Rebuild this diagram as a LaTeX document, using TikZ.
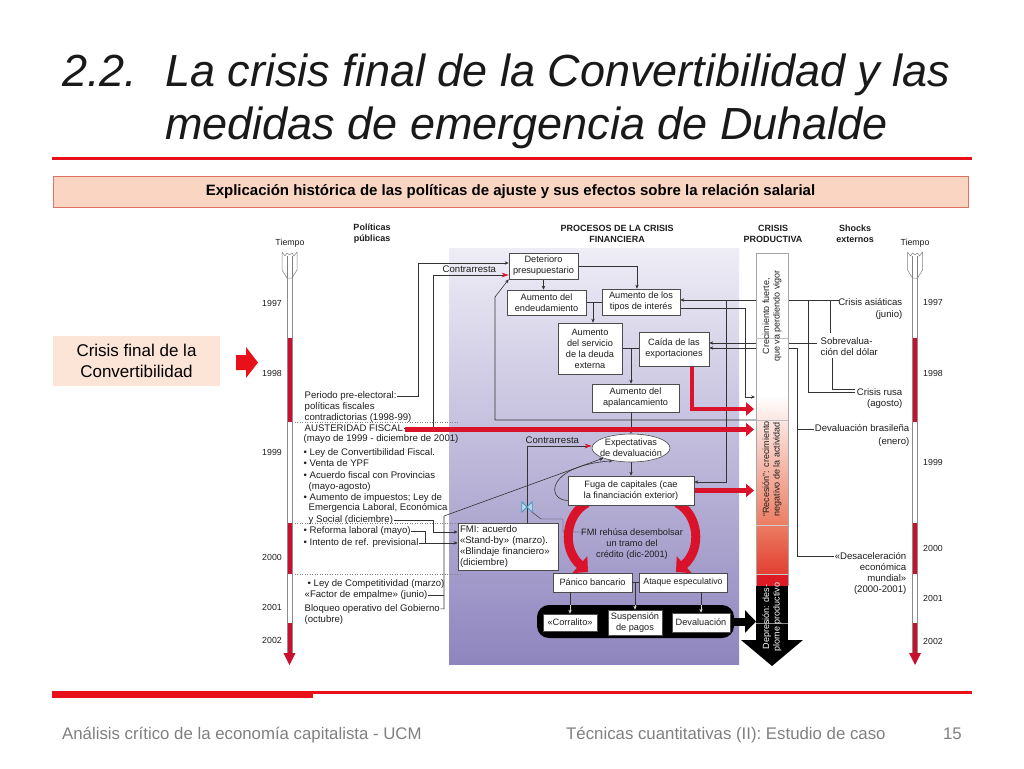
\documentclass[tikz,border=0pt]{standalone}
\usepackage{fontspec}
\setmainfont{Liberation Sans}
\usetikzlibrary{arrows.meta,shapes.geometric,calc}
\pgfdeclarelayer{bg}
\pgfsetlayers{bg,main}
\definecolor{slred}{RGB}{232,17,25}
\definecolor{hdrfill}{RGB}{250,214,194}
\definecolor{hdrdraw}{RGB}{226,112,100}
\definecolor{cffill}{RGB}{252,228,214}
\definecolor{footgray}{RGB}{128,128,128}
\definecolor{ptop}{RGB}{238,237,246}
\definecolor{pbot}{RGB}{142,133,190}
\definecolor{figred}{RGB}{218,18,42}
\definecolor{tlred}{RGB}{200,16,46}
\definecolor{txt}{RGB}{30,30,30}
\definecolor{colA}{RGB}{236,125,98}
\definecolor{colB}{RGB}{226,62,48}
\definecolor{colC}{RGB}{222,26,36}
\definecolor{valvec}{RGB}{70,150,195}
\newcommand\figf{\fontsize{9.6}{11.2}\selectfont}
\newcommand\boxf{\fontsize{9.2}{11}\selectfont}
\newcommand\figb{\fontsize{9}{10.8}\selectfont\bfseries}
\newcommand\yrf{\fontsize{8.8}{10}\selectfont}
\begin{document}
\begin{tikzpicture}[x=1pt,y=-1pt,
  bx/.style={draw=black!70, fill=white, line width=0.6pt, align=center, inner sep=1pt, font=\boxf, text=txt},
  tl/.style={anchor=base west, inner sep=0.5pt, font=\figf, text=txt},
  tr/.style={anchor=base east, inner sep=0.5pt, font=\figf, text=txt},
  yr/.style={anchor=base, inner sep=0pt, font=\yrf, text=txt},
  hd/.style={align=center, inner sep=0pt, font=\figb, text=txt},
  vt/.style={rotate=90, align=center, inner sep=0pt, font=\fontsize{9}{10.5}\selectfont, text=txt},
  tit/.style={anchor=base west, inner sep=0pt, font=\fontsize{45}{54}\selectfont\itshape, text=black!90},
  ln/.style={draw=black!80, line width=0.6pt},
  arr/.style={ln, -{Stealth[length=4pt,width=3.4pt]}},
  warr/.style={draw=white!85!black, line width=0.6pt, -{Stealth[length=4pt,width=3.4pt]}},
  carr/.style={ln, -{Stealth[length=7pt,width=4.5pt,color=figred]}},
  redarr/.style={draw=figred, line width=4.5pt, -{Triangle[length=8pt,width=13pt]}},
  curvarr/.style={draw=figred, line width=9pt, -{Triangle[length=11pt,width=22pt]}},
  dots/.style={draw=black!50, line width=0.5pt, dotted},
]
\useasboundingbox (0,0) rectangle (1024,768);
\begin{pgfonlayer}{bg}
\fill[white] (0,0) rectangle (1024,768);
\end{pgfonlayer}

% ---------- slide frame ----------
\node[tit] (tnum) at (62,86) {2.2.};
\node[tit] (tl1) at (165,86) {La crisis final de la Convertibilidad y las};
\node[tit] (tl2) at (165,139) {medidas de emergencia de Duhalde};
\fill[slred] (52,157) rectangle (972,160);
\node[draw=hdrdraw, fill=hdrfill, line width=1pt, minimum width=915pt, minimum height=31pt, inner sep=0pt,
      font=\fontsize{15}{18}\selectfont\bfseries] (hdr) at (510.5,191.5)
      {Explicación histórica de las políticas de ajuste y sus efectos sobre la relación salarial};
\node[fill=cffill, minimum width=167pt, minimum height=50pt, inner sep=0pt, align=center,
      font=\fontsize{17}{20.5}\selectfont] (cf) at (136.5,361) {Crisis final de la\\Convertibilidad};
\fill[slred] (236,355) -- (246,355) -- (246,347) -- (258,362.5) -- (246,378) -- (246,370) -- (236,370) -- cycle;
\fill[slred] (52,690.5) rectangle (313,697.5);
\fill[slred] (313,690.5) rectangle (972,693.5);
\node[anchor=base west, inner sep=0pt, font=\fontsize{16.8}{20}\selectfont, text=footgray] (f1) at (62,739) {Análisis crítico de la economía capitalista - UCM};
\node[anchor=base west, inner sep=0pt, font=\fontsize{16.8}{20}\selectfont, text=footgray] (f2) at (566,739) {Técnicas cuantitativas (II): Estudio de caso};
\node[anchor=base east, inner sep=0pt, font=\fontsize{16.8}{20}\selectfont, text=footgray] (f3) at (962,739) {15};

% ---------- headers ----------
\node[hd] (hpol) at (372,234) {Políticas\\públicas};
\node[hd] (hproc) at (617,233.5) {PROCESOS DE LA CRISIS\\FINANCIERA};
\node[hd] (hprod) at (773,233.5) {CRISIS\\PRODUCTIVA};
\node[hd] (hsho) at (855,233.5) {Shocks\\externos};
\node[inner sep=0pt, font=\yrf, text=txt] (tiL) at (290,243) {Tiempo};
\node[inner sep=0pt, font=\yrf, text=txt] (tiR) at (915,243) {Tiempo};

% ---------- years ----------
\node[yr] (yl97) at (272,306.3) {1997};
\node[yr] (yl98) at (272,376.3) {1998};
\node[yr] (yl99) at (272,455.3) {1999};
\node[yr] (yl00) at (272,560) {2000};
\node[yr] (yl01) at (272,610.3) {2001};
\node[yr] (yl02) at (272,643.5) {2002};
\node[yr] (yr97) at (933,305.3) {1997};
\node[yr] (yr98) at (933,376.3) {1998};
\node[yr] (yr99) at (933,465.3) {1999};
\node[yr] (yr00) at (933,551.3) {2000};
\node[yr] (yr01) at (933,601.3) {2001};
\node[yr] (yr02) at (933,644.3) {2002};

% ---------- timelines ----------
\foreach \cx in {289.5,915}{
  \fill[white] (\cx-2.5,262) rectangle (\cx+2.5,655);
  \fill[tlred] (\cx-2.5,338) rectangle (\cx+2.5,422);
  \fill[tlred] (\cx-2.5,523) rectangle (\cx+2.5,574);
  \fill[tlred] (\cx-2.5,623) rectangle (\cx+2.5,656);
  \draw[black!45, line width=0.5pt] (\cx-2.5,270) -- (\cx-2.5,654) (\cx+2.5,270) -- (\cx+2.5,654);
  \fill[tlred] (\cx-6,653) -- (\cx+6,653) -- (\cx,665) -- cycle;
  \draw[black!50, fill=white, line width=0.5pt, line join=round] (\cx-7.5,252) -- (\cx-7.5,270) -- (\cx-2.5,278) -- (\cx+2.5,278) -- (\cx+7.5,270) -- (\cx+7.5,252) -- (\cx+4.5,256) -- (\cx+2.5,253) -- (\cx,255) -- (\cx-2.5,253) -- (\cx-4.5,256) -- cycle;
  \draw[black!50, line width=0.5pt] (\cx-2.5,256) -- (\cx-2.5,278) (\cx+2.5,256) -- (\cx+2.5,278);
}

% ---------- policy texts ----------
\node[tl] (pre1) at (304,398.4) {Periodo pre-electoral:};
\node[tl] (pre2) at (304,409.4) {políticas fiscales};
\node[tl] (pre3) at (304,420.4) {contradictorias (1998-99)};
\node[tl] (aus) at (304,431.4) {AUSTERIDAD FISCAL};
\node[tl] (p5) at (303,441.4) {(mayo de 1999 - diciembre de 2001)};
\node[tl] (p6) at (303,455.4) {• Ley de Convertibilidad Fiscal.};
\node[tl] (p7) at (303,466.4) {• Venta de YPF};
\node[tl] (p8) at (303,478.4) {• Acuerdo fiscal con Provincias};
\node[tl] (p9) at (308,489.4) {(mayo-agosto)};
\node[tl] (p10) at (303,500.4) {• Aumento de impuestos; Ley de};
\node[tl] (p11) at (308,510.4) {Emergencia Laboral, Económica};
\node[tl] (p12) at (308,522.4) {y Social (diciembre)};
\node[tl] (p13) at (303,533.4) {• Reforma laboral (mayo)};
\node[tl] (p14) at (303,545.4) {• Intento de ref. previsional};
\node[tl] (p15) at (307,586.4) {• Ley de Competitividad (marzo)};
\node[tl] (p16) at (304,597.4) {«Factor de empalme» (junio)};
\node[tl] (p17) at (304,611.4) {Bloqueo operativo del Gobierno};
\node[tl] (p18) at (304,622.4) {(octubre)};

% ---------- shocks texts ----------
\node[tr] (asi) at (903,305.4) {Crisis asiáticas};
\node[tr] (jun) at (903,317.4) {(junio)};
\node[tl] (sob1) at (820,344.4) {Sobrevalua-};
\node[tl] (sob2) at (820,355.4) {ción del dólar};
\node[tr] (rus) at (903,395.4) {Crisis rusa};
\node[tr] (ago) at (903,406.4) {(agosto)};
\node[tr] (dbr) at (910,431.4) {Devaluación brasileña};
\node[tr] (ene) at (910,444.4) {(enero)};
\node[tr] (des1) at (907,559.4) {«Desaceleración};
\node[tr] (des2) at (907,570.4) {económica};
\node[tr] (des3) at (907,581.4) {mundial»};
\node[tr] (des4) at (907,592.4) {(2000-2001)};

% ---------- process boxes ----------
\node[bx, minimum width=69pt, minimum height=26pt] (det) at (543.5,266) {Deterioro\\presupuestario};
\node[bx, minimum width=79pt, minimum height=25pt] (ende) at (546.5,302.5) {Aumento del\\endeudamiento};
\node[bx, minimum width=78pt, minimum height=26pt] (tipo) at (641,302) {Aumento de los\\tipos de interés};
\node[bx, minimum width=64pt, minimum height=51pt] (ser) at (590,348.5) {Aumento\\del servicio\\de la deuda\\externa};
\node[bx, minimum width=70pt, minimum height=34pt] (cai) at (674,349) {Caída de las\\exportaciones};
\node[bx, minimum width=87pt, minimum height=28pt] (apa) at (635.5,398) {Aumento del\\apalancamiento};
\node[bx, ellipse, minimum width=78pt, minimum height=28pt, inner sep=0pt] (expv) at (631,448) {};
\node[inner sep=0pt, align=center, font=\boxf, text=txt] (expt) at (expv.center) {Expectativas\\de devaluación};
\node[bx, minimum width=126pt, minimum height=29pt] (fug) at (631,490.5) {Fuga de capitales (cae\\la financiación exterior)};
\node[bx, align=left, text width=96pt, inner sep=2pt, minimum height=47pt, font=\figf] (fmi) at (508,546.5) {FMI: acuerdo\\«Stand-by» (marzo).\\«Blindaje financiero»\\(diciembre)};
\node[inner sep=0pt, align=center, font=\boxf, text=txt] (fmir) at (632,544) {FMI rehúsa desembolsar\\un tramo del\\crédito (dic-2001)};
\node[bx, minimum width=79pt, minimum height=19pt] (pan) at (592.5,582.5) {Pánico bancario};
\node[bx, minimum width=88pt, minimum height=19pt, font=\fontsize{8.8}{10}\selectfont] (ata) at (683,582.5) {Ataque especulativo};
\node[fill=black, rounded corners=12pt, minimum width=197pt, minimum height=33pt, inner sep=0pt] (bar) at (635.5,621.5) {};
\node[bx, minimum width=54pt, minimum height=17pt] (cor) at (570,622.5) {«Corralito»};
\node[bx, minimum width=54pt, minimum height=25pt] (sus) at (635,622.5) {Suspensión\\de pagos};
\node[bx, minimum width=58pt, minimum height=19pt] (dev) at (701,622.5) {Devaluación};

\node[tl] (ctr1) at (442,272.5) {Contrarresta};
\node[tl] (ctr2) at (525,443.5) {Contrarresta};

\node[inner sep=0pt, minimum size=10pt] (vlv) at (527,507) {};

% ---------- column texts ----------
\node[vt] (cp1) at (772,316) {Crecimiento fuerte,\\que va perdiendo vigor};
\node[vt] (cp2) at (772,469) {“Recesión”: crecimiento\\negativo de la actividad};
\node[vt, text=white] (cp3) at (772,617) {Depresión: des-\\plome productivo};

% ---------- named coordinates ----------
\coordinate (x418) at (418,0);
\coordinate (x425) at (425,0);
\coordinate (x433) at (433,0);
\coordinate (x444) at (444,0);
\coordinate (x527) at (527,0);
\coordinate (x593) at (593,0);
\coordinate (x631) at (631,0);
\coordinate (x635) at (635,0);
\coordinate (x637) at (637,0);
\coordinate (x797) at (797,0);
\coordinate (j516) at (444,516);
\coordinate (c420) at (770,420);
\coordinate (b726) at (726,300);
\coordinate (asiL) at (839,300);
\coordinate (k397) at (755,397);
\coordinate (sobL) at (817,343);
\coordinate (c348) at (797,348);
\coordinate (desL) at (834,556);
\coordinate (dbrL) at (814,429);
\coordinate (a808) at (808,300);
\coordinate (a830) at (830,300);
\coordinate (s830) at (830,333);
\coordinate (s832) at (832,358);
\coordinate (rusL1) at (855,392);
\coordinate (rusL2) at (855,389);
\coordinate (pr1) at (754,409);
\coordinate (pr2s) at (405,429.5);
\coordinate (pr2) at (754,429.5);
\coordinate (pr3) at (754,490.5);
\coordinate (pblk) at (756,621.5);
\coordinate (frL) at (586,532);

\begin{pgfonlayer}{bg}
\shade[top color=ptop, bottom color=pbot] (449,248) rectangle (739,664);
\draw[dots] (292,422) -- (458,422);
\draw[dots] (292,523) -- (458,523);
\draw[dots] (292,574) -- (462,574);

% policies -> processes
\draw[arr] (pre1.east) -- (pre1.east -| x418) |- ([yshift=3pt]det.west);
\draw[carr] (aus.east) -- (aus.east -| x433) |- ([yshift=-9pt]det.west);
\draw[arr] (p12.east) -- (p12.east -| x433) |- ([yshift=14.5pt]fmi.west);
\draw[ln] (p13.east) -- (p13.east -| x425) -- (x425 |- p14.east);
\draw[arr] (p14.east) -- (fmi.west |- p14.east);
\draw[ln] (p16.east) -- (p16.east -| x444);
\draw[arr] (p17.east) -- (p17.east -| x444) -- (j516) -- (expv.200);
\draw[carr] (fmi.north -| x527) |- ([yshift=2pt]expv.west);
\draw[ln, line width=0.45pt] (vlv.south east) -- (541,519) -- (563,519) |- (frL);

% process chain
\draw[arr] (det.south) -- (det.south |- ende.north);
\draw[arr] (det.east) -| (x637 |- tipo.north);
\draw[ln] (ende.east) -- (tipo.west |- ende.east);
\draw[arr] (x593 |- ende.east) -- (x593 |- ser.north);
\draw[ln] (ser.east) -- (cai.west |- ser.east);
\draw[arr] (x631 |- ser.east) -- (x631 |- apa.north);
\draw[arr] (x631 |- apa.south) -- (expv.north);
\draw[arr] (expv.south) -- (fug.north);
\draw[arr] ([yshift=-10pt]fug.west) .. controls (546,500) and (546,466) .. (expv.215);
\draw[arr] (c420) -- (495,420) -- (495,297) -- (det.south west);

% shocks
\draw[arr] (asiL) -- (tipo.east |- asiL);
\draw[arr] (b726) |- ([yshift=8.5pt]fug.east);
\draw[arr] ([yshift=-6pt]tipo.east) -- (745,308) -- (745,397) -- (k397);
\draw[arr] (sobL) -- (cai.east |- sobL);
\draw[arr] (desL) -- (desL -| x797) -- (c348) -- (cai.east |- c348);
\draw[ln] (dbrL) -- (dbrL -| x797);
\draw[ln] (a808) |- (rusL1);
\draw[ln] (a830) -- (s830);
\draw[ln] (s832) |- (rusL2);

% red arrows
\draw[redarr] ([xshift=18pt]cai.south) |- (pr1);
\draw[redarr] (pr2s) -- (pr2);
\draw[redarr] (fug.east) -- (pr3);
\draw[curvarr] (587,503) .. controls (566,514) and (561,548) .. (588,572);
\draw[curvarr] (677,503) .. controls (698,514) and (703,548) .. (676,572);
\draw[line width=8pt, -{Triangle[length=11pt,width=22pt]}] (bar.east) -- (pblk);

% productive crisis column
\fill[white] (756,253) rectangle (788,396);
\shade[top color=white, bottom color=colA] (756,395.5) rectangle (788,525);
\shade[top color=colA, bottom color=colB] (756,524.5) rectangle (788,575);
\fill[colC] (756,574.5) rectangle (788,586);
\fill[black] (756,585.5) rectangle (788,641);
\fill[black] (741,640) -- (803,640) -- (772,666) -- cycle;
\draw[black!35, line width=0.6pt] (756,586) -- (756,253) -- (788,253) -- (788,586);
\draw[black!25, line width=0.5pt] (756,338) -- (788,338) (756,420) -- (788,420);
\draw[white!80!black, line width=0.5pt] (756,525) -- (788,525) (756,574) -- (788,574);
\draw[black!45, line width=0.6pt] (756,623) -- (788,623);
\end{pgfonlayer}

% valve symbol
\draw[valvec, fill=valvec!35, line width=0.8pt, line join=round] (vlv.north west) -- (vlv.south east) -- (vlv.north east) -- (vlv.south west) -- cycle;

% bottom connectors over the black bar
\draw[ln] (pan.east) -- (ata.west);
\draw[ln] (cor.north |- pan.south) -- (cor.north |- bar.north);
\draw[warr] (cor.north |- bar.north) -- (cor.north);
\draw[ln] (x635 |- pan.east) -- (x635 |- bar.north);
\draw[warr] (x635 |- bar.north) -- (sus.north);
\draw[ln] (dev.north |- ata.south) -- (dev.north |- bar.north);
\draw[warr] (dev.north |- bar.north) -- (dev.north);
\end{tikzpicture}
\end{document}
